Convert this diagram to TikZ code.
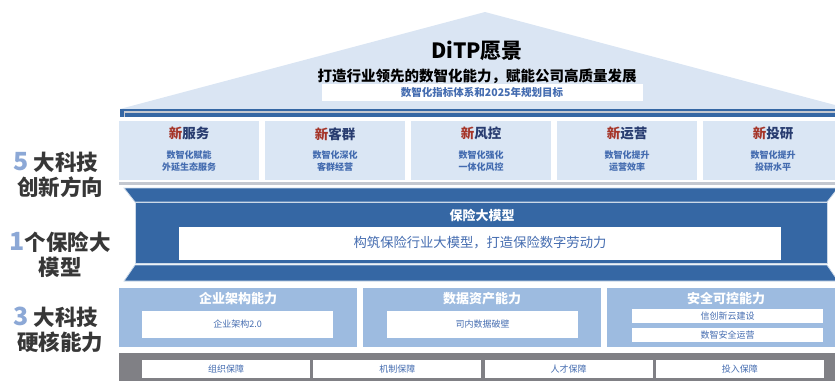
\documentclass[tikz,border=0pt]{standalone}
\usepackage{fontspec}
\setmainfont{Noto Sans CJK SC}
\usetikzlibrary{positioning, calc}
\definecolor{roofblue}{RGB}{218,229,243}
\definecolor{pillarblue}{RGB}{218,230,244}
\definecolor{deepblue}{RGB}{53,103,164}
\definecolor{midblue}{RGB}{157,187,224}
\definecolor{basegray}{RGB}{128,128,133}
\definecolor{textblue}{RGB}{68,108,176}
\definecolor{navy1}{RGB}{40,60,112}
\definecolor{red1}{RGB}{165,52,40}
\definecolor{darkgray1}{RGB}{55,55,55}
\definecolor{digitblue}{RGB}{140,168,214}
\definecolor{edgegray}{RGB}{196,200,208}

\tikzset{
  pillar/.style={fill=pillarblue, minimum width=140pt, minimum height=59pt, inner sep=0pt},
  capbox/.style={fill=midblue, minimum width=238pt, minimum height=59pt, inner sep=0pt},
  whitebox/.style={fill=white, inner sep=0pt, text=textblue, font=\fontsize{9}{11}\selectfont},
  sidelabel/.style={align=center, text=darkgray1, font=\fontsize{21.5}{25}\bfseries\selectfont},
  captitle/.style={text=white, font=\fontsize{13}{15}\bfseries\selectfont},
}
\newcommand{\digit}[1]{\textcolor{digitblue}{\fontsize{25}{25}\selectfont #1}}

\begin{document}
\begin{tikzpicture}[x=1pt, y=-1pt]
  \useasboundingbox (0,0) rectangle (835,381);
  \clip (0,0) rectangle (835,381);

  % Roof
  \fill[roofblue] (120,109) -- (485,12) -- (850,109) -- cycle;
  \node[font=\fontsize{21}{24}\bfseries\selectfont] (vision) at (477,51) {DiTP愿景};
  \node[font=\fontsize{14.5}{17}\bfseries\selectfont, below=1pt of vision] (goal) {打造行业领先的数智化能力，赋能公司高质量发展};
  \node[fill=white, minimum width=321pt, minimum height=17pt, inner sep=0pt, text=textblue,
        font=\fontsize{10.5}{12}\bfseries\selectfont] (target) at (482,92) {数智化指标体系和2025年规划目标};
  \fill[deepblue] (120,109) rectangle (850,117);
  \draw[edgegray, line width=1.2pt] (124.6,117) -- (124.6,112) -- (850,112);

  % 5 pillars
  \foreach \i/\name/\la/\lb in {0/服务/数智化赋能/外延生态服务, 1/客群/数智化深化/客群经营,
      2/风控/数智化强化/一体化风控, 3/运营/数智化提升/运营效率, 4/投研/数智化提升/投研水平} {
    \node[pillar] (pillar\i) at ({189+146*\i},150.5) {};
    \node[text=navy1, font=\fontsize{13.5}{15}\bfseries\selectfont] (ptitle\i)
      at ($(pillar\i.north)+(0,13)$) {\textcolor{red1}{新}\name};
    \node[align=center, text=textblue, font=\fontsize{9}{12}\bfseries\selectfont] (ptext\i)
      at ($(pillar\i.north)+(0,40)$) {\la\\\lb};
  }
  \fill[edgegray] (119,182) rectangle (850,184.5);

  % Insurance model band
  \filldraw[fill=deepblue, draw=white!75!deepblue, line width=0.8pt] (124,188) -- (838,188) -- (827,202) -- (135,202) -- cycle;
  \filldraw[fill=deepblue, draw=white!75!deepblue, line width=0.8pt] (135,202.5) rectangle (827,263.5);
  \node[captitle] (modeltitle) at (482,215) {保险大模型};
  \node[fill=white, minimum width=602pt, minimum height=33pt, inner sep=0pt, text=textblue,
        font=\fontsize{13.3}{15}\selectfont] (modelbox) at (480,243) {构筑保险行业大模型，打造保险数字劳动力};
  \filldraw[fill=deepblue, draw=white!75!deepblue, line width=0.8pt] (135,265) -- (827,265) -- (838,281) -- (124,281) -- cycle;

  % 3 capabilities
  \foreach \i/\name in {0/企业架构能力, 1/数据资产能力, 2/安全可控能力} {
    \node[capbox] (cap\i) at ({238+244*\i},317.5) {};
    \node[captitle] (ctitle\i) at ($(cap\i.north)+(0,10.5)$) {\name};
  }
  \node[whitebox, minimum width=191pt, minimum height=27pt] (arch) at (237.5,324.5) {企业架构2.0};
  \node[whitebox, minimum width=191pt, minimum height=27pt] (data) at (482.5,324.5) {司内数据破壁};
  \node[whitebox, minimum width=191pt, minimum height=14pt] (cloud) at (727.5,316) {信创新云建设};
  \node[whitebox, minimum width=191pt, minimum height=14pt] (secop) at (727.5,335) {数智安全运营};

  % Foundation
  \fill[basegray] (119,353) rectangle (850,381);
  \foreach \i/\name in {0/组织保障, 1/机制保障, 2/人才保障, 3/投入保障} {
    \node[whitebox, minimum width=168pt, minimum height=18pt] (base\i) at ({226+171.3*\i},369) {\name};
  }

  % Side labels
  \node[sidelabel] (innov) at (60,175) {\digit{5}\ 大科技\rule{8pt}{0pt}\\创新方向};
  \node[sidelabel] (model) at (60,255) {\digit{1}个保险大\\模型};
  \node[sidelabel] (hard) at (60,330) {\digit{3}\ 大科技\rule{8pt}{0pt}\\硬核能力};
\end{tikzpicture}
\end{document}
